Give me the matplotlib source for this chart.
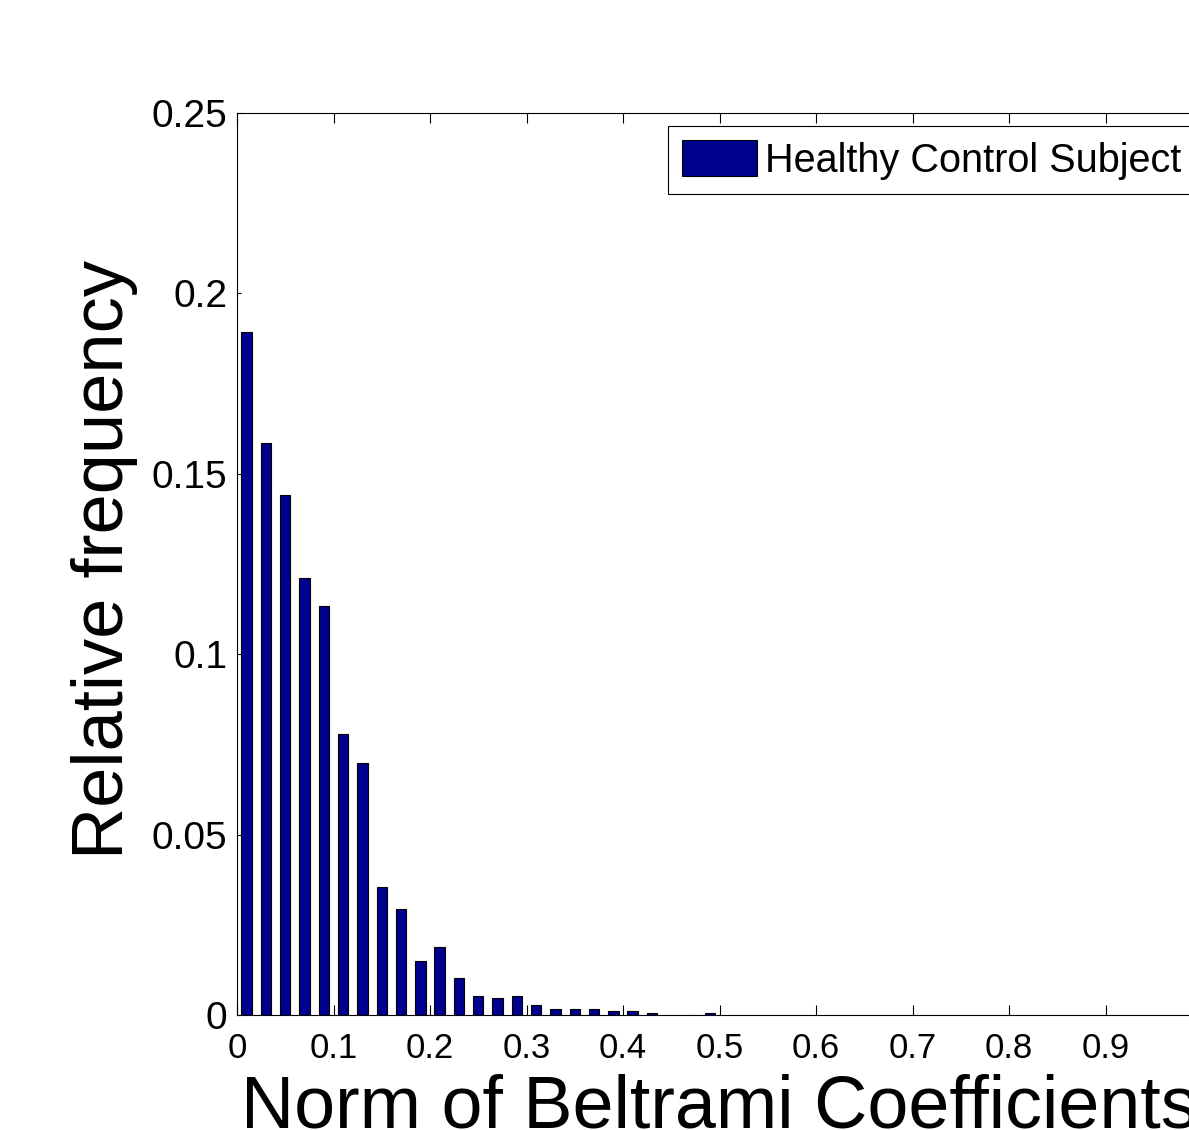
import matplotlib
matplotlib.use('Agg')
import matplotlib.pyplot as plt

plt.rcParams['font.family'] = ['Liberation Sans', 'DejaVu Sans']

# histogram bin centres and relative frequency
bin_centres = [0.01, 0.03, 0.05, 0.07, 0.09, 0.11, 0.13, 0.15, 0.17, 0.19,
               0.21, 0.23, 0.25, 0.27, 0.29, 0.31, 0.33, 0.35, 0.37, 0.39,
               0.41, 0.43, 0.45, 0.47, 0.49]
rel_freq = [0.1892, 0.1585, 0.1441, 0.1210, 0.1134, 0.0780, 0.0698, 0.0354, 0.0293, 0.0150,
            0.0189, 0.0103, 0.0052, 0.0047, 0.0052, 0.0027, 0.0017, 0.0017, 0.0017, 0.0011,
            0.0011, 0.0006, 0.0, 0.0, 0.0006]

x_ticks = [0, 0.1, 0.2, 0.3, 0.4, 0.5, 0.6, 0.7, 0.8, 0.9, 1.0]
x_tick_labels = ['0', '0.1', '0.2', '0.3', '0.4', '0.5', '0.6', '0.7', '0.8', '0.9', '1']
y_ticks = [0, 0.05, 0.1, 0.15, 0.2, 0.25]
y_tick_labels = ['0', '0.05', '0.1', '0.15', '0.2', '0.25']

W, H = 1189, 1130
fig = plt.figure(figsize=(W / 100, H / 100), dpi=100)
# axes runs off the right edge, like the cropped original
ax = fig.add_axes([237 / W, 1 - 1015 / H, 965 / W, 902 / H])

ax.bar(bin_centres, rel_freq, width=0.0108, color='#00008F', edgecolor='black',
       linewidth=0.8, label='Healthy Control Subject')

ax.set_xlim(0, 1)
ax.set_ylim(0, 0.25)
ax.set_xticks(x_ticks)
ax.set_xticklabels(x_tick_labels)
ax.set_yticks(y_ticks)
ax.set_yticklabels(y_tick_labels)

ax.tick_params(axis='x', direction='in', length=7.5, width=0.8, labelsize=25,
               pad=12, top=True)
ax.tick_params(axis='y', direction='in', length=3.2, width=0.8, labelsize=28,
               pad=7, right=True)
for sp in ax.spines.values():
    sp.set_linewidth(0.8)

ax.set_xlabel('Norm of Beltrami Coefficients', fontsize=53, va='top')
ax.xaxis.set_label_coords(0.5, -0.0654)
ax.set_ylabel('Relative frequency', fontsize=52)
ax.yaxis.set_label_coords(-0.1026, 0.505)

leg = ax.legend(loc='upper left', bbox_to_anchor=(668 / W, 1 - 126 / H),
                bbox_transform=fig.transFigure, borderaxespad=0, fontsize=28.5,
                handlelength=1.9, handleheight=1.0, handletextpad=0.18,
                borderpad=0.36, fancybox=False, framealpha=1)
leg.get_frame().set_edgecolor('black')
leg.get_frame().set_linewidth(0.8)

fig.savefig('out.png', dpi=100)
